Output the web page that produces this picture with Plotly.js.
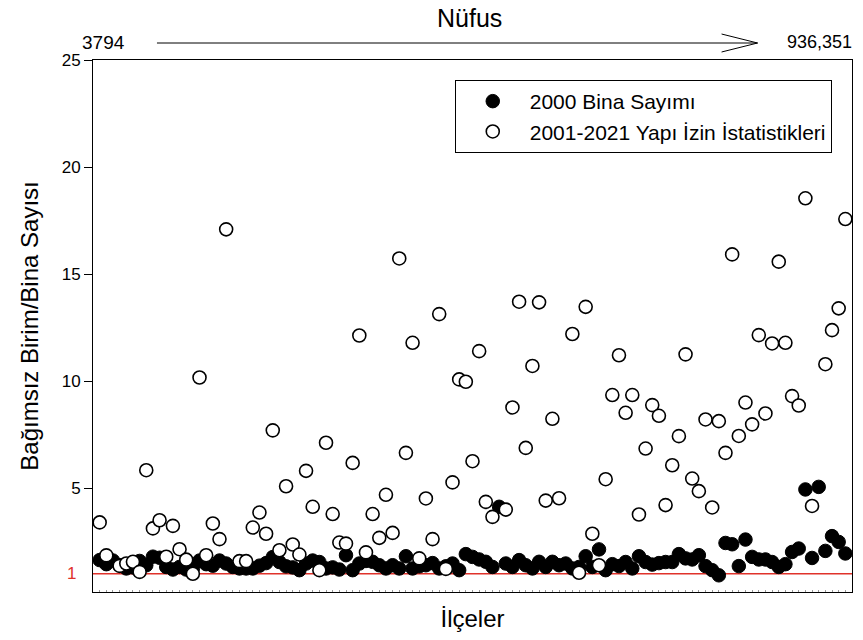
<!DOCTYPE html>
<html>
<head>
<meta charset="utf-8">
<script src="https://cdn.plot.ly/plotly-3.0.1.min.js"></script>
<style>html,body{margin:0;padding:0;background:#fff;}#chart{width:863px;height:640px;}</style>
</head>
<body>
<div id="chart"></div>
<script>
// Values (district order, sorted by population)
const censusValues = [
1.64,1.45,1.62,1.40,1.25,1.30,1.60,1.40,1.80,1.75,
1.32,1.20,1.32,1.20,1.25,1.62,1.45,1.38,1.62,1.48,
1.32,1.25,1.25,1.25,1.38,1.50,1.78,1.55,1.35,1.30,
1.17,1.48,1.62,1.55,1.25,1.30,1.20,1.87,1.17,1.48,
1.60,1.56,1.40,1.25,1.40,1.25,1.82,1.25,1.35,1.40,
1.50,1.25,1.35,1.48,1.17,1.92,1.79,1.67,1.56,1.32,
4.13,1.48,1.32,1.64,1.40,1.25,1.56,1.32,1.56,1.40,
1.48,1.25,1.32,1.82,1.32,2.14,1.17,1.45,1.36,1.55,
1.25,1.82,1.55,1.43,1.50,1.55,1.55,1.92,1.72,1.67,
1.87,1.36,1.17,0.93,2.44,2.38,1.36,2.60,1.79,1.67,
1.67,1.55,1.32,1.45,2.02,2.18,4.94,1.74,5.06,2.07,
2.76,2.49,1.95
];
const permitValues = [
3.40,1.86,null,1.37,1.48,1.56,1.09,5.84,3.12,3.50,
1.80,3.24,2.15,1.66,1.00,10.17,1.87,3.35,2.62,17.09,
null,1.59,1.59,3.16,3.86,2.87,7.70,2.10,5.09,2.37,
1.90,5.81,4.13,1.17,7.12,3.79,2.46,2.41,6.18,12.13,
2.00,3.79,2.68,4.69,2.91,15.73,6.65,11.79,1.72,4.52,
2.62,13.13,1.23,5.27,10.08,9.97,6.26,11.40,4.36,3.66,
null,4.00,8.77,13.71,6.88,10.71,13.68,4.42,8.24,4.53,
null,12.20,1.05,13.47,2.87,1.40,5.42,9.35,11.21,8.52,
9.35,3.77,6.85,8.88,8.38,4.21,6.07,7.43,11.25,5.45,
4.86,8.21,4.10,8.13,6.65,15.92,7.44,9.00,7.98,12.15,
8.49,11.76,15.58,11.79,9.30,8.86,18.54,4.17,null,10.79,
12.38,13.40,17.57
];
const seriesNames = ["2000 Bina Sayımı", "2001-2021 Yapı İzin İstatistikleri"];
const yTickVals = [5, 10, 15, 20, 25];
const yTickText = ["5", "10", "15", "20", "25"];
const refLineValue = 1;
const popMinLabel = "3794";
const popMaxLabel = "936,351";
const popTitle = "Nüfus";

const districtIndex = censusValues.map((v, i) => i + 1);
const FONT = "Liberation Sans, Arial, sans-serif";

const traces = [
  {
    x: districtIndex, y: censusValues, type: "scatter", mode: "markers",
    name: seriesNames[0],
    marker: {symbol: "circle", size: 13.5, color: "#000", line: {color: "#000", width: 1}},
    hoverinfo: "skip"
  },
  {
    x: districtIndex, y: permitValues, type: "scatter", mode: "markers",
    name: seriesNames[1],
    marker: {symbol: "circle", size: 13, color: "#fff", line: {color: "#000", width: 1.6}},
    hoverinfo: "skip"
  }
];

const px = v => (v - 93) / 759.5;
const py = v => (592 - v) / 532;

const layout = {
  width: 863, height: 640,
  margin: {l: 93, r: 10.5, t: 60, b: 48},
  paper_bgcolor: "#fff", plot_bgcolor: "#fff",
  font: {family: FONT, size: 16, color: "#000"},
  showlegend: true,
  xaxis: {
    range: [0, districtIndex.length + 1],
    showline: true, mirror: true, linecolor: "#000", linewidth: 1,
    showgrid: false, zeroline: false,
    ticks: "inside", ticklen: 2, tickcolor: "#999", tick0: 0, dtick: 1,
    showticklabels: false,
    title: {text: "İlçeler", font: {family: FONT, size: 24, color: "#000"}, standoff: 18}
  },
  yaxis: {
    range: [0.15, 25],
    showline: true, mirror: true, linecolor: "#000", linewidth: 1,
    showgrid: false, zeroline: false,
    ticks: "outside", ticklen: 8, tickcolor: "#000",
    tickvals: yTickVals, ticktext: yTickText,
    tickfont: {family: FONT, size: 17, color: "#000"},
    title: {text: "Bağımsız Birim/Bina Sayısı", font: {family: FONT, size: 24, color: "#000"}, standoff: 16}
  },
  legend: {
    x: px(455), y: py(80), xanchor: "left", yanchor: "top",
    bgcolor: "#fff", bordercolor: "#000", borderwidth: 1,
    font: {family: FONT, size: 21, color: "#000"},
    itemwidth: 64, traceorder: "normal"
  },
  shapes: [
    {type: "line", xref: "paper", x0: 0, x1: 1, yref: "y", y0: refLineValue, y1: refLineValue,
     line: {color: "#e0322b", width: 1.5}, layer: "below"},
    {type: "line", xref: "paper", yref: "paper", x0: px(157), x1: px(758), y0: py(43), y1: py(43),
     line: {color: "#000", width: 1}},
    {type: "line", xref: "paper", yref: "paper", x0: px(722), x1: px(758), y0: py(34), y1: py(43),
     line: {color: "#000", width: 1}},
    {type: "line", xref: "paper", yref: "paper", x0: px(722), x1: px(758), y0: py(52), y1: py(43),
     line: {color: "#000", width: 1}}
  ],
  annotations: [
    {text: popTitle, xref: "paper", yref: "paper", x: px(470), y: py(18), showarrow: false,
     xanchor: "center", yanchor: "middle", font: {family: FONT, size: 25, color: "#000"}},
    {text: popMinLabel, xref: "paper", yref: "paper", x: px(104), y: py(42), showarrow: false,
     xanchor: "center", yanchor: "middle", font: {family: FONT, size: 19, color: "#000"}},
    {text: popMaxLabel, xref: "paper", yref: "paper", x: px(820), y: py(42), showarrow: false,
     xanchor: "center", yanchor: "middle", font: {family: FONT, size: 18, color: "#000"}},
    {text: String(refLineValue), xref: "paper", yref: "y", x: px(71), y: refLineValue, showarrow: false,
     xanchor: "center", yanchor: "middle", font: {family: FONT, size: 17, color: "#e0322b"}}
  ]
};

Plotly.newPlot("chart", traces, layout, {displayModeBar: false, staticPlot: true});
</script>
</body>
</html>
